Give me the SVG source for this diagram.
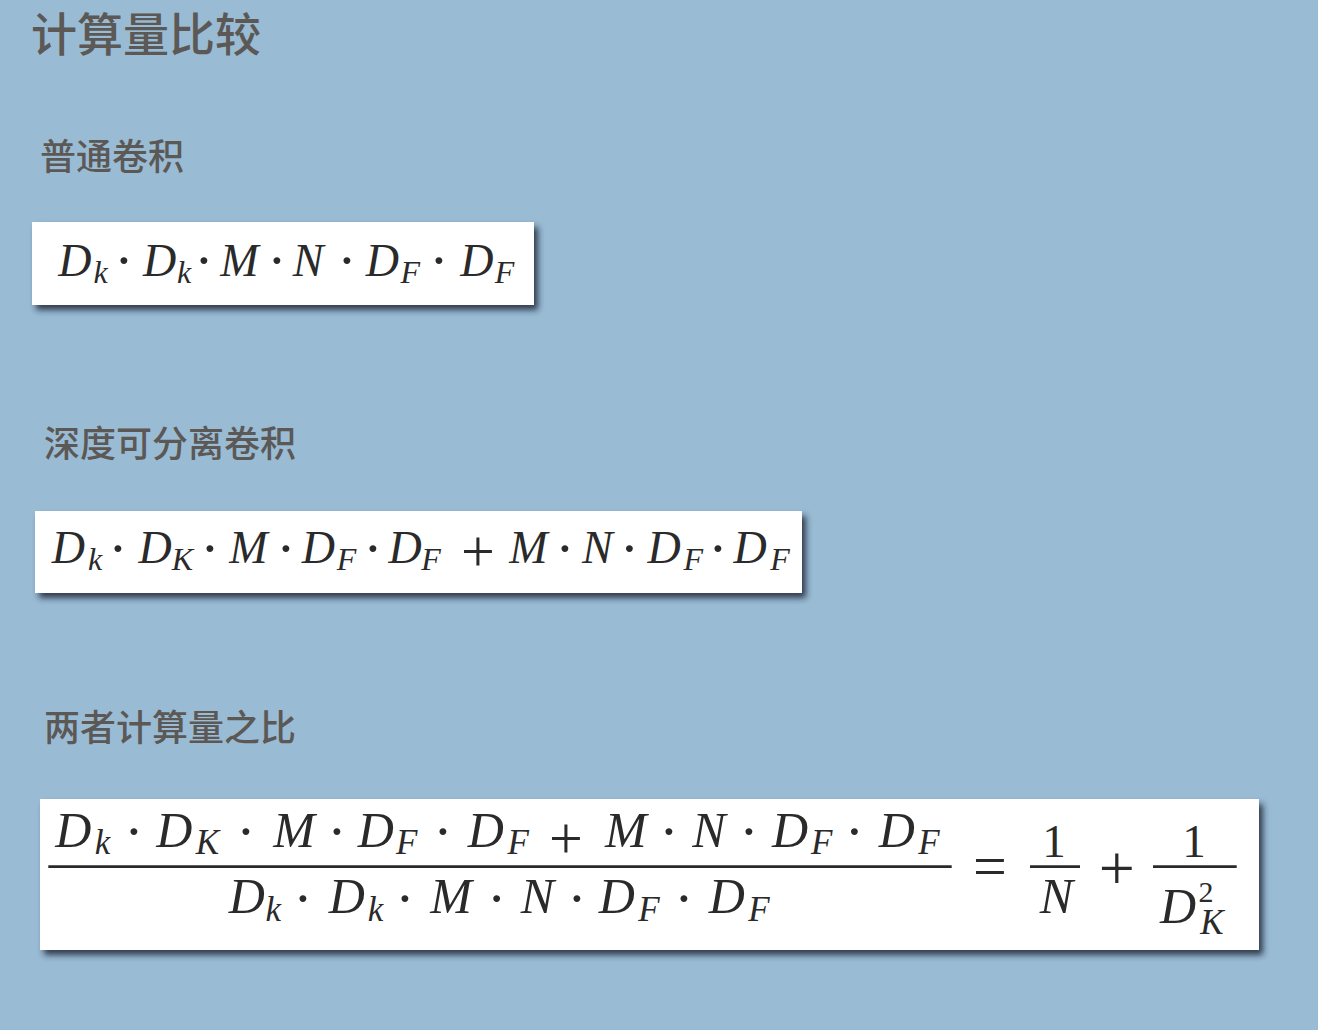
<svg xmlns="http://www.w3.org/2000/svg" width="1318" height="1030" viewBox="0 0 1318 1030">
<defs>
<filter id="sh" x="-5%" y="-20%" width="115%" height="150%">
<feDropShadow dx="4" dy="5" stdDeviation="3" flood-color="#1c2834" flood-opacity="0.85"/>
</filter>
</defs>
<style>
.cjk{font-family:"Noto Sans CJK SC","Noto Sans",sans-serif;font-weight:500;fill:#5b5855}
.box{fill:#ffffff;filter:url(#sh)}
.m{font-family:"Liberation Serif","Times New Roman",serif;fill:#2a2a2a;text-anchor:middle}
.i{font-style:italic}
.a{font-size:46px}
.as{font-size:32px}
.b{font-size:50px}
.bs{font-size:35px}
.d{font-size:58px}
.db{font-size:58px}
.fl{stroke:#2a2a2a;stroke-width:2.7}
</style>
<rect width="1318" height="1030" fill="#99bbd4"/>

<g id="title"><text class="cjk" x="31" y="51" font-size="46">计算量比较</text></g>

<g id="heading-standard"><text class="cjk" x="40" y="170" font-size="36">普通卷积</text></g>

<g id="box-standard">
<rect class="box" x="32" y="222" width="502" height="83"/>
<g class="m">
<text class="i a" x="74.9" y="276">D</text><text class="i as" x="100.5" y="283">k</text>
<text class="d" x="124" y="280">·</text>
<text class="i a" x="159.7" y="276">D</text><text class="i as" x="184" y="283">k</text>
<text class="d" x="204" y="280">·</text>
<text class="i a" x="239.3" y="276">M</text>
<text class="d" x="277" y="280">·</text>
<text class="i a" x="308" y="276">N</text>
<text class="d" x="347" y="280">·</text>
<text class="i a" x="382.3" y="276">D</text><text class="i as" x="410.2" y="283">F</text>
<text class="d" x="439" y="280">·</text>
<text class="i a" x="476.8" y="276">D</text><text class="i as" x="504.5" y="283">F</text>
</g>
</g>

<g id="heading-depthwise"><text class="cjk" x="44" y="457" font-size="36">深度可分离卷积</text></g>

<g id="box-depthwise">
<rect class="box" x="35" y="511" width="767" height="82"/>
<g class="m">
<text class="i a" x="68.3" y="563">D</text><text class="i as" x="95" y="570">k</text>
<text class="d" x="118" y="568">·</text>
<text class="i a" x="155" y="563">D</text><text class="i as" x="182.5" y="570">K</text>
<text class="d" x="210" y="568">·</text>
<text class="i a" x="248.3" y="563">M</text>
<text class="d" x="286" y="568">·</text>
<text class="i a" x="318.3" y="563">D</text><text class="i as" x="346.5" y="570">F</text>
<text class="d" x="373" y="568">·</text>
<text class="i a" x="405" y="563">D</text><text class="i as" x="431" y="570">F</text>
<text x="478" y="571" font-size="60">+</text>
<text class="i a" x="528.3" y="563">M</text>
<text class="d" x="565" y="568">·</text>
<text class="i a" x="597.3" y="563">N</text>
<text class="d" x="629.5" y="568">·</text>
<text class="i a" x="664" y="563">D</text><text class="i as" x="693.3" y="570">F</text>
<text class="d" x="718" y="568">·</text>
<text class="i a" x="750" y="563">D</text><text class="i as" x="780" y="570">F</text>
</g>
</g>

<g id="heading-ratio"><text class="cjk" x="44" y="741" font-size="36">两者计算量之比</text></g>

<g id="box-ratio">
<rect class="box" x="40" y="799" width="1219" height="151"/>
<g class="m">
<text class="i b" x="73.3" y="846.5">D</text><text class="i bs" x="102.5" y="854">k</text>
<text class="db" x="134" y="851">·</text>
<text class="i b" x="174.2" y="846.5">D</text><text class="i bs" x="207.5" y="854">K</text>
<text class="db" x="246" y="851">·</text>
<text class="i b" x="294" y="846.5">M</text>
<text class="db" x="337" y="851">·</text>
<text class="i b" x="375.8" y="846.5">D</text><text class="i bs" x="406.7" y="854">F</text>
<text class="db" x="443" y="851">·</text>
<text class="i b" x="485.8" y="846.5">D</text><text class="i bs" x="518.3" y="854">F</text>
<text x="566" y="858" font-size="60">+</text>
<text class="i b" x="625.8" y="846.5">M</text>
<text class="db" x="669" y="851">·</text>
<text class="i b" x="709" y="846.5">N</text>
<text class="db" x="749" y="851">·</text>
<text class="i b" x="790" y="846.5">D</text><text class="i bs" x="821.7" y="854">F</text>
<text class="db" x="854.5" y="851">·</text>
<text class="i b" x="896.7" y="846.5">D</text><text class="i bs" x="929" y="854">F</text>

<text class="i b" x="246.7" y="913">D</text><text class="i bs" x="273.3" y="921">k</text>
<text class="db" x="303" y="918">·</text>
<text class="i b" x="346.7" y="913">D</text><text class="i bs" x="375.5" y="921">k</text>
<text class="db" x="405" y="918">·</text>
<text class="i b" x="451" y="913">M</text>
<text class="db" x="496.7" y="918">·</text>
<text class="i b" x="537.5" y="913">N</text>
<text class="db" x="577" y="918">·</text>
<text class="i b" x="616.7" y="913">D</text><text class="i bs" x="649" y="921">F</text>
<text class="db" x="684" y="918">·</text>
<text class="i b" x="726.7" y="913">D</text><text class="i bs" x="759" y="921">F</text>

<text x="990" y="886" font-size="60">=</text>
<text x="1054" y="857" font-size="47">1</text>
<text class="i b" x="1056.5" y="913">N</text>
<text x="1116.7" y="890" font-size="64">+</text>
<text x="1194" y="857" font-size="47">1</text>
<text class="i b" x="1178" y="923">D</text>
<text x="1206" y="902" font-size="30">2</text>
<text class="i bs" x="1212" y="934">K</text>
</g>
<g id="fraction-bars">
<line class="fl" x1="48.3" y1="866.7" x2="951.7" y2="866.7"/>
<line class="fl" x1="1030" y1="866.7" x2="1080" y2="866.7"/>
<line class="fl" x1="1153" y1="866.7" x2="1236.7" y2="866.7"/>
</g>
</g>
</svg>
